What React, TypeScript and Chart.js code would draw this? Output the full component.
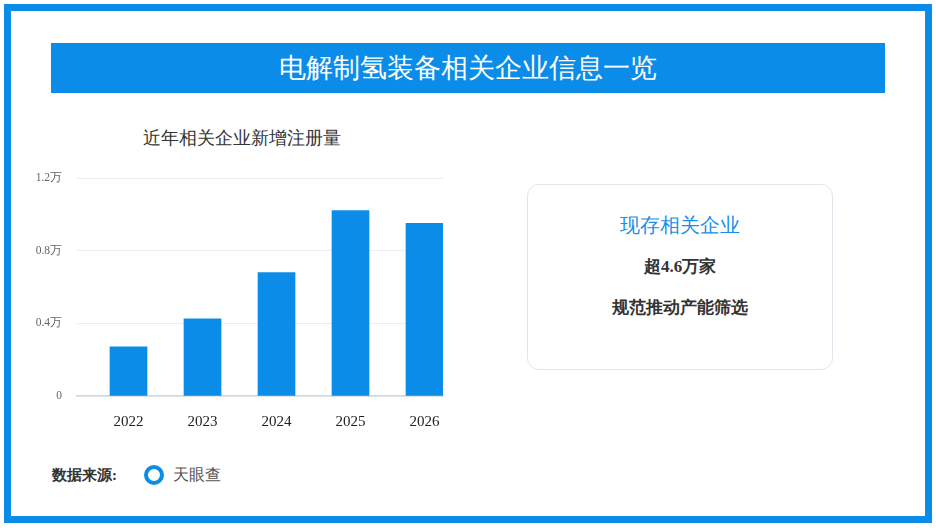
import React, { useEffect, useRef } from "react";
import { Chart, registerables } from "chart.js";

Chart.register(...registerables);

const categories = ["2022", "2023", "2024", "2025", "2026"];
const newRegistrations = [2700, 4250, 6800, 10200, 9500];
const yTickValues = [0, 4000, 8000, 12000];
const yTickLabels = ["0", "0.4万", "0.8万", "1.2万"];

const pageTitle = "电解制氢装备相关企业信息一览";
const chartTitle = "近年相关企业新增注册量";
const cardTitle = "现存相关企业";
const cardLines = ["超4.6万家", "规范推动产能筛选"];
const sourceLabel = "数据来源:";
const sourceName = "天眼查";

const BLUE = "#0b8ce9";
const FONT = "serif";

function BarChart() {
  const ref = useRef<HTMLCanvasElement | null>(null);
  useEffect(() => {
    if (!ref.current) return;
    const chart = new Chart(ref.current, {
      type: "bar",
      data: {
        datasets: [
          {
            data: newRegistrations.map((v, i) => ({ x: i, y: v })),
            backgroundColor: BLUE,
            borderWidth: 0,
            barThickness: 37,
          },
        ],
      },
      options: {
        animation: false,
        responsive: false,
        maintainAspectRatio: false,
        layout: { padding: { left: 0, right: 17, top: 58, bottom: 0 } },
        plugins: {
          legend: { display: false },
          tooltip: { enabled: false },
          title: { display: false },
        },
        scales: {
          x: {
            type: "linear",
            offset: false,
            min: -0.696,
            max: 4.25,
            grid: { display: false, drawTicks: false, offset: false },
            border: { display: true, color: "#cfd7e0", width: 1.5 },
            afterBuildTicks: (scale: any) => {
              scale.ticks = categories.map((_, i) => ({ value: i }));
            },
            afterFit: (scale: any) => {
              scale.height = 44;
            },
            ticks: {
              autoSkip: false,
              maxRotation: 0,
              padding: 17,
              color: "#222",
              font: { family: FONT, size: 15 },
              callback: (v: any) => categories[Math.round(Number(v))] ?? "",
            },
          },
          y: {
            min: 0,
            max: 12000,
            grid: { color: "#e8eef5", drawTicks: false, lineWidth: 1 },
            border: { display: false },
            afterBuildTicks: (scale: any) => {
              scale.ticks = yTickValues.map((v) => ({ value: v }));
            },
            afterFit: (scale: any) => {
              scale.width = 57;
            },
            ticks: {
              padding: 15,
              color: "#666",
              font: { family: FONT, size: 11.5 },
              callback: (v: any) => {
                const idx = yTickValues.indexOf(Number(v));
                return idx >= 0 ? yTickLabels[idx] : "";
              },
            },
          },
        },
      },
    });
    return () => chart.destroy();
  }, []);
  return (
    <canvas
      ref={ref}
      width={440}
      height={320}
      style={{ position: "absolute", left: 20, top: 120, width: 440, height: 320 }}
    />
  );
}

export default function App() {
  return (
    <div
      style={{
        position: "fixed",
        left: 0,
        top: 0,
        width: 936,
        height: 528,
        background: "#fff",
        fontFamily: FONT,
        overflow: "hidden",
      }}
    >
      <div
        style={{
          position: "absolute",
          left: 4,
          top: 4,
          width: 928,
          height: 519,
          boxSizing: "border-box",
          border: `7px solid ${BLUE}`,
        }}
      />
      <div
        style={{
          position: "absolute",
          left: 51,
          top: 43,
          width: 834,
          height: 50,
          background: BLUE,
          color: "#fff",
          fontSize: 27,
          lineHeight: "50px",
          textAlign: "center",
        }}
      >
        {pageTitle}
      </div>
      <div
        style={{
          position: "absolute",
          left: 142,
          width: 200,
          top: 127,
          textAlign: "center",
          color: "#333",
          fontSize: 17.5,
          lineHeight: "22px",
          whiteSpace: "nowrap",
        }}
      >
        {chartTitle}
      </div>
      <BarChart />
      <div
        style={{
          position: "absolute",
          left: 527,
          top: 184,
          width: 306,
          height: 186,
          boxSizing: "border-box",
          border: "1.5px solid #dfe6ee",
          borderRadius: 12,
        }}
      >
        <div
          style={{
            position: "absolute",
            left: 0,
            right: 0,
            top: 27,
            textAlign: "center",
            color: "#1a8fe6",
            fontSize: 20,
            lineHeight: "26px",
          }}
        >
          {cardTitle}
        </div>
        {cardLines.map((t, i) => (
          <div
            key={i}
            style={{
              position: "absolute",
              left: 0,
              right: 0,
              top: 71 + i * 41,
              textAlign: "center",
              color: "#333",
              fontSize: 17,
              fontWeight: "bold",
              lineHeight: "22px",
            }}
          >
            {t}
          </div>
        ))}
      </div>
      <div
        style={{
          position: "absolute",
          left: 52,
          top: 465,
          fontSize: 15,
          fontWeight: "bold",
          color: "#333",
          lineHeight: "20px",
        }}
      >
        {sourceLabel}
      </div>
      <div
        style={{
          position: "absolute",
          left: 144,
          top: 465,
          width: 20,
          height: 20,
          boxSizing: "border-box",
          borderRadius: "50%",
          border: `4px solid ${BLUE}`,
        }}
      />
      <div
        style={{
          position: "absolute",
          left: 173,
          top: 464,
          fontSize: 16,
          color: "#555",
          lineHeight: "22px",
        }}
      >
        {sourceName}
      </div>
    </div>
  );
}
